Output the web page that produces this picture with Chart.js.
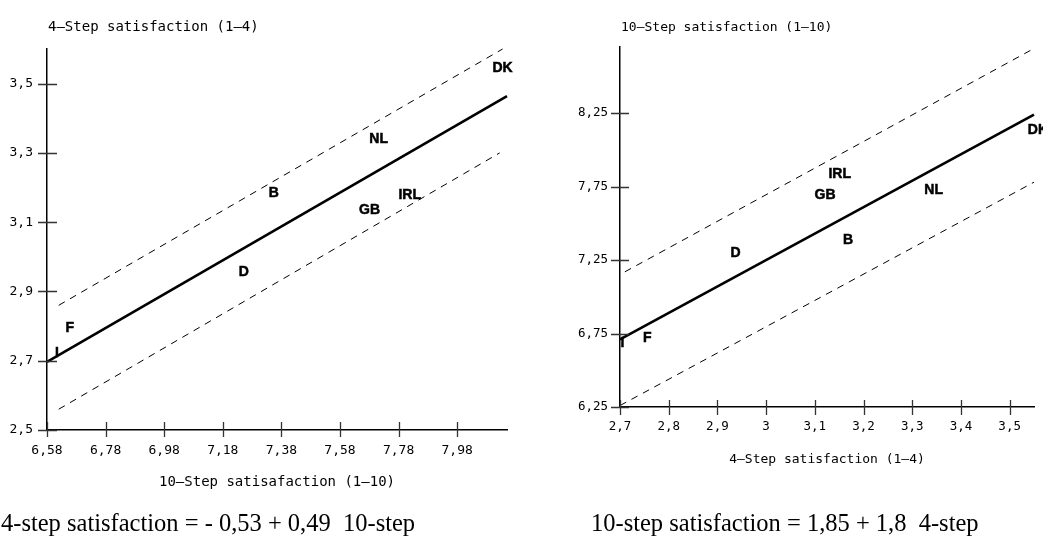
<!DOCTYPE html>
<html><head><meta charset="utf-8">
<script src="https://cdn.jsdelivr.net/npm/chart.js@4.4.1/dist/chart.umd.min.js"></script>
<style>
html,body{margin:0;padding:0;background:#fff;}
#wrap{position:relative;width:1043px;height:538px;overflow:hidden;background:#fff;}
.box{position:absolute;top:0;height:538px;}
</style></head><body>
<div id="wrap">
<div class="box" style="left:0;width:520px"><canvas id="c1" width="520" height="538"></canvas></div>
<div class="box" style="left:520px;width:523px"><canvas id="c2" width="523" height="538"></canvas></div>
</div>
<script>
// ---------- data ----------
const countries = ['DK','NL','B','GB','IRL','D','F','I'];

// Left chart: x = 10-step satisfaction, y = 4-step satisfaction
const leftTenStep  = [8.135, 7.712, 7.354, 7.681, 7.818, 7.252, 6.658, 6.614];
const leftFourStep = [3.547, 3.342, 3.186, 3.137, 3.181, 2.959, 2.797, 2.725];
const leftFitX   = [6.58, 8.15];
const leftFitY   = [2.697, 3.464];
const leftUpperX = [6.62, 8.135];
const leftUpperY = [2.86, 3.60];
const leftLowerX = [6.62, 8.125];
const leftLowerY = [2.56, 3.30];
const leftXTicks  = [6.58, 6.78, 6.98, 7.18, 7.38, 7.58, 7.78, 7.98];
const leftXLabels = ['6,58','6,78','6,98','7,18','7,38','7,58','7,78','7,98'];
const leftYTicks  = [2.5, 2.7, 2.9, 3.1, 3.3, 3.5];
const leftYLabels = ['2,5','2,7','2,9','3,1','3,3','3,5'];

// Right chart: x = 4-step satisfaction, y = 10-step satisfaction
const rightFourStep = [3.558, 3.344, 3.168, 3.121, 3.151, 2.937, 2.756, 2.705];
const rightTenStep  = [8.143, 7.735, 7.393, 7.701, 7.844, 7.302, 6.726, 6.689];
const rightFitX   = [2.70, 3.55];
const rightFitY   = [6.71, 8.24];
const rightUpperX = [2.71, 3.55];
const rightUpperY = [7.17, 8.69];
const rightLowerX = [2.70, 3.55];
const rightLowerY = [6.26, 7.78];
const rightXTicks  = [2.7, 2.8, 2.9, 3.0, 3.1, 3.2, 3.3, 3.4, 3.5];
const rightXLabels = ['2,7','2,8','2,9','3','3,1','3,2','3,3','3,4','3,5'];
const rightYTicks  = [6.25, 6.75, 7.25, 7.75, 8.25];
const rightYLabels = ['6,25','6,75','7,25','7,75','8,25'];

// ---------- plugins ----------
const pts = (xs, ys) => xs.map((x, i) => ({x: x, y: ys[i]}));
const MONO = '"DejaVu Sans Mono", "Liberation Mono", monospace';

const crossTicks = {
  id: 'crossTicks',
  afterDraw(chart, args, o) {
    const ctx = chart.ctx, xs = chart.scales.x, ys = chart.scales.y;
    ctx.save();
    ctx.strokeStyle = o.color; ctx.lineWidth = o.width;
    ctx.beginPath();
    xs.ticks.forEach(t => {
      const px = Math.round(xs.getPixelForValue(t.value)) + 0.5;
      ctx.moveTo(px, ys.bottom - o.xUp); ctx.lineTo(px, ys.bottom + o.xDown);
    });
    ys.ticks.forEach(t => {
      const py = Math.round(ys.getPixelForValue(t.value)) + 0.5;
      ctx.moveTo(xs.left - o.yLeft, py); ctx.lineTo(xs.left + o.yRight, py);
    });
    ctx.stroke();
    ctx.restore();
  }
};

const countryLabels = {
  id: 'countryLabels',
  afterDatasetsDraw(chart, args, o) {
    const ctx = chart.ctx;
    const meta = chart.getDatasetMeta(o.dataset);
    const ds = chart.data.datasets[o.dataset];
    ctx.save();
    ctx.fillStyle = '#000';
    ctx.strokeStyle = '#000';
    ctx.lineWidth = 0.5;
    ctx.font = o.font;
    ctx.textAlign = 'center';
    ctx.textBaseline = 'alphabetic';
    meta.data.forEach((el, i) => {
      ctx.fillText(ds.data[i].label, el.x, el.y + o.capHalf);
      ctx.strokeText(ds.data[i].label, el.x, el.y + o.capHalf);
    });
    ctx.restore();
  }
};

const texts = {
  id: 'texts',
  afterDraw(chart, args, o) {
    const ctx = chart.ctx, ca = chart.chartArea;
    ctx.save();
    ctx.fillStyle = '#000';
    ctx.textBaseline = 'alphabetic';
    o.items.forEach(it => {
      ctx.font = it.font;
      ctx.textAlign = it.align || 'left';
      let x = it.x;
      if (it.x === 'left') x = ca.left + 1;
      if (it.x === 'center') x = (ca.left + ca.right) / 2;
      ctx.fillText(it.text, x, it.y);
    });
    ctx.restore();
  }
};

function makeChart(id, c) {
  const labelData = c.px.map((x, i) => ({x: x, y: c.py[i], label: countries[i]}));
  return new Chart(document.getElementById(id), {
    type: 'scatter',
    data: {
      datasets: [
        {data: pts(c.fitX, c.fitY), showLine: true, borderColor: '#000', borderWidth: 2.6, pointRadius: 0, clip: false},
        {data: pts(c.upX, c.upY), showLine: true, borderColor: '#000', borderWidth: 1, borderDash: [7, 6], pointRadius: 0, clip: false},
        {data: pts(c.loX, c.loY), showLine: true, borderColor: '#000', borderWidth: 1, borderDash: [7, 6], pointRadius: 0, clip: false},
        {data: labelData, pointRadius: 0, showLine: false, clip: false}
      ]
    },
    options: {
      responsive: false,
      animation: false,
      devicePixelRatio: 1,
      layout: {padding: {left: 0, top: c.top, right: c.right, bottom: 0}},
      plugins: {
        legend: {display: false},
        tooltip: {enabled: false},
        crossTicks: c.ticksStyle,
        countryLabels: {dataset: 3, font: 'bold 14px "Liberation Sans Narrow", "Liberation Sans", sans-serif', capHalf: 5},
        texts: {items: c.texts}
      },
      scales: {
        x: {
          type: 'linear', min: c.xMin, max: c.xMax,
          grid: {display: false, drawTicks: false, tickLength: 0},
          border: {display: true, color: '#000', width: 1.5},
          afterFit: s => { s.height = c.xH; },
          afterBuildTicks: s => { s.ticks = c.xTicks.map(v => ({value: v})); },
          ticks: {
            padding: c.xPad, color: '#000', maxRotation: 0, autoSkip: false,
            font: {family: MONO, size: c.tickSize},
            callback: (v, i) => c.xLabels[i]
          }
        },
        y: {
          type: 'linear', min: c.yMin, max: c.yMax,
          grid: {display: false, drawTicks: false, tickLength: 0},
          border: {display: true, color: '#000', width: 1.5},
          afterFit: s => { s.width = c.yW; },
          afterBuildTicks: s => { s.ticks = c.yTicks.map(v => ({value: v})); },
          ticks: {
            padding: c.yPad, color: '#000', autoSkip: false,
            font: {family: MONO, size: c.tickSize},
            callback: (v, i) => c.yLabels[i]
          }
        }
      }
    },
    plugins: [crossTicks, countryLabels, texts]
  });
}

makeChart('c1', {
  px: leftTenStep, py: leftFourStep,
  fitX: leftFitX, fitY: leftFitY, upX: leftUpperX, upY: leftUpperY, loX: leftLowerX, loY: leftLowerY,
  xMin: 6.58, xMax: 8.15, yMin: 2.5, yMax: 3.6,
  xTicks: leftXTicks, xLabels: leftXLabels, yTicks: leftYTicks, yLabels: leftYLabels,
  top: 49, right: 13, yW: 47, xH: 108, xPad: 13, yPad: 14, tickSize: 13,
  ticksStyle: {color: '#333', width: 1.3, xUp: 8, xDown: 7, yLeft: 9, yRight: 10},
  texts: [
    {text: '4\u2013Step satisfaction (1\u20134)', x: 'left', y: 31, font: '14px ' + MONO},
    {text: '10\u2013Step satisafaction (1\u201310)', x: 'center', y: 486, align: 'center', font: '14px ' + MONO},
    {text: '4-step satisfaction = - 0,53 + 0,49  10-step', x: 1, y: 531, font: '24.5px "Liberation Serif", "Times New Roman", serif'}
  ]
});

makeChart('c2', {
  px: rightFourStep, py: rightTenStep,
  fitX: rightFitX, fitY: rightFitY, upX: rightUpperX, upY: rightUpperY, loX: rightLowerX, loY: rightLowerY,
  xMin: 2.7, xMax: 3.55, yMin: 6.25, yMax: 8.7,
  xTicks: rightXTicks, xLabels: rightXLabels, yTicks: rightYTicks, yLabels: rightYLabels,
  top: 47, right: 9, yW: 100, xH: 131, xPad: 12, yPad: 12, tickSize: 12.5,
  ticksStyle: {color: '#333', width: 1.3, xUp: 7, xDown: 8, yLeft: 9, yRight: 9},
  texts: [
    {text: '10\u2013Step satisfaction (1\u201310)', x: 'left', y: 31, font: '13px ' + MONO},
    {text: '4\u2013Step satisfaction (1\u20134)', x: 'center', y: 463, align: 'center', font: '13px ' + MONO},
    {text: '10-step satisfaction = 1,85 + 1,8  4-step', x: 71, y: 531, font: '24.5px "Liberation Serif", "Times New Roman", serif'}
  ]
});
</script>
</body></html>
